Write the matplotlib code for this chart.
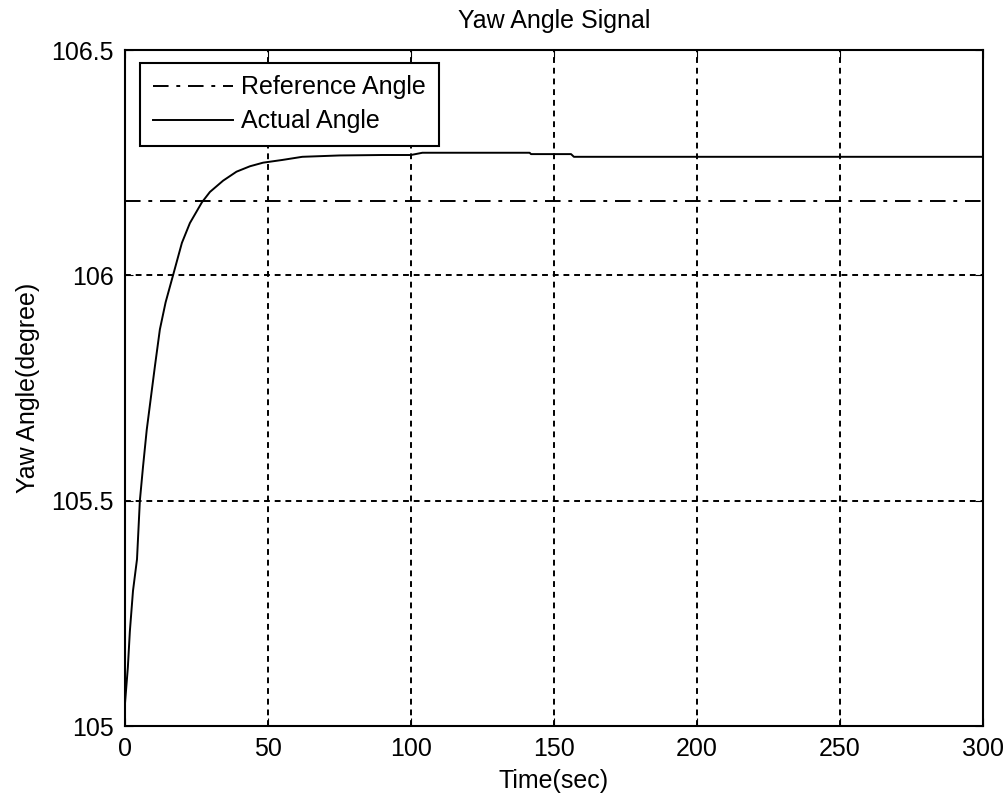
import numpy as np
import matplotlib
matplotlib.use('Agg')
import matplotlib.pyplot as plt

# 读图得到的数据
t = [0, 1, 1.7, 2.8, 4.2, 5.2, 6.3, 7.6, 9.4, 10.5, 12.2, 14.2, 16.8, 19.9, 22.7,
     26.9, 29.7, 34.3, 39, 43.7, 48.3, 55, 62, 75, 90, 100, 104, 141.5, 142, 156, 157, 300]
actual = [105.05, 105.13, 105.21, 105.30, 105.37, 105.50, 105.575, 105.657, 105.746,
          105.80, 105.88, 105.94, 106.0, 106.072, 106.116, 106.162, 106.185, 106.21,
          106.23, 106.242, 106.25, 106.256, 106.263, 106.266, 106.267, 106.267, 106.272,
          106.272, 106.269, 106.269, 106.263, 106.263]
ref_t = [0, 300]
ref_angle = [106.166, 106.166]

xticks = [0, 50, 100, 150, 200, 250, 300]
yticks = [105, 105.5, 106, 106.5]
ytick_labels = ['105', '105.5', '106', '106.5']

plt.rcParams['font.family'] = ['Liberation Sans', 'DejaVu Sans']

fig = plt.figure(figsize=(10.08, 8), dpi=100)
ax = fig.add_axes([0.124, 0.0925, 0.851, 0.845])

ax.plot(ref_t, ref_angle, color='black', linestyle=(0, (8, 4, 2, 4)), linewidth=1.4, label='Reference Angle')
ax.plot(t, actual, color='black', linestyle='-', linewidth=1.4, label='Actual Angle')

ax.set_xlim(0, 300)
ax.set_ylim(105, 106.5)
ax.set_xticks(xticks)
ax.set_yticks(yticks)
ax.set_yticklabels(ytick_labels)
ax.grid(True, color='black', linestyle=(0, (3, 2.5)), linewidth=1.4)
ax.tick_params(direction='in', top=True, right=True, length=6, labelsize=18, pad=8)
for s in ax.spines.values():
    s.set_linewidth(1.5)

ax.set_title('Yaw Angle Signal', fontsize=18, pad=16)
ax.set_xlabel('Time(sec)', fontsize=18, labelpad=6)
ax.set_ylabel('Yaw Angle(degree)', fontsize=18, labelpad=8)

leg = ax.legend(loc='upper left', fontsize=18, fancybox=False, framealpha=1,
                edgecolor='black', handlelength=3.2, handletextpad=0.35,
                borderpad=0.5, labelspacing=0.4, borderaxespad=0,
                bbox_to_anchor=(0.0175, 0.981))
leg.get_frame().set_linewidth(1.5)

fig.savefig('out.png', dpi=100)
